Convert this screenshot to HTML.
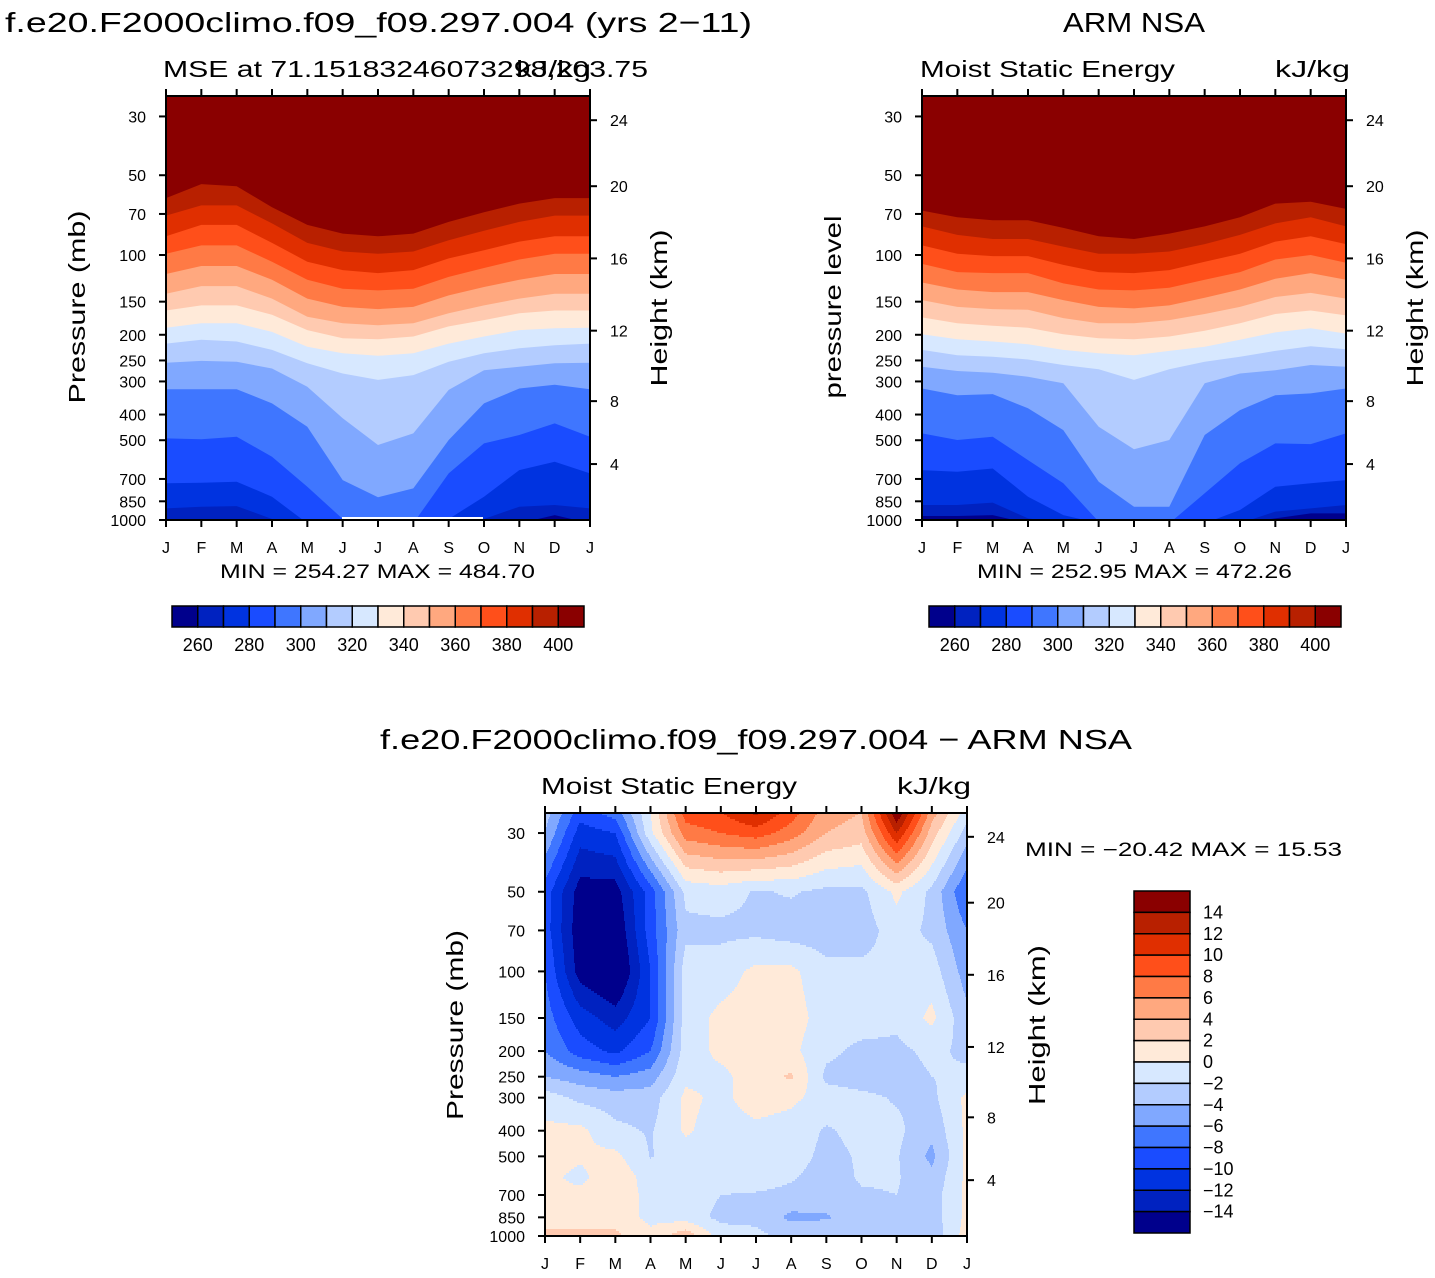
<!DOCTYPE html>
<html><head><meta charset="utf-8">
<style>
html,body{margin:0;padding:0;background:#fff;}
svg{display:block;font-family:"Liberation Sans",sans-serif;}
</style></head>
<body>
<svg id="fig" width="1435" height="1278" viewBox="0 0 1435 1278" xmlns="http://www.w3.org/2000/svg">
<text x="5" y="32" font-size="28" textLength="747" lengthAdjust="spacingAndGlyphs">f.e20.F2000climo.f09_f09.297.004 (yrs 2−11)</text>
<text x="1063" y="32" font-size="28" textLength="142" lengthAdjust="spacingAndGlyphs">ARM NSA</text>
<text x="163" y="77" font-size="23" textLength="485" lengthAdjust="spacingAndGlyphs">MSE at 71.15183246073298,203.75</text>
<text x="516" y="77" font-size="23" textLength="75" lengthAdjust="spacingAndGlyphs">kJ/kg</text>
<text x="920" y="77" font-size="23" textLength="255" lengthAdjust="spacingAndGlyphs">Moist Static Energy</text>
<text x="1275" y="77" font-size="23" textLength="75" lengthAdjust="spacingAndGlyphs">kJ/kg</text>
<text x="380" y="749" font-size="28" textLength="752" lengthAdjust="spacingAndGlyphs">f.e20.F2000climo.f09_f09.297.004 − ARM NSA</text>
<text x="541" y="794" font-size="23" textLength="256" lengthAdjust="spacingAndGlyphs">Moist Static Energy</text>
<text x="897" y="794" font-size="23" textLength="74" lengthAdjust="spacingAndGlyphs">kJ/kg</text>
<text x="220" y="578" font-size="19" textLength="315" lengthAdjust="spacingAndGlyphs">MIN = 254.27 MAX = 484.70</text>
<text x="977" y="578" font-size="19" textLength="315" lengthAdjust="spacingAndGlyphs">MIN = 252.95 MAX = 472.26</text>
<text x="1025" y="856" font-size="19" textLength="317" lengthAdjust="spacingAndGlyphs">MIN = −20.42 MAX =  15.53</text>
<text transform="translate(85,307) rotate(-90)" text-anchor="middle" font-size="23" textLength="193" lengthAdjust="spacingAndGlyphs">Pressure (mb)</text>
<text transform="translate(667,308) rotate(-90)" text-anchor="middle" font-size="23" textLength="157" lengthAdjust="spacingAndGlyphs">Height (km)</text>
<text transform="translate(841,307) rotate(-90)" text-anchor="middle" font-size="23" textLength="183" lengthAdjust="spacingAndGlyphs">pressure level</text>
<text transform="translate(1423,308) rotate(-90)" text-anchor="middle" font-size="23" textLength="157" lengthAdjust="spacingAndGlyphs">Height (km)</text>
<text transform="translate(463,1025) rotate(-90)" text-anchor="middle" font-size="23" textLength="190" lengthAdjust="spacingAndGlyphs">Pressure (mb)</text>
<text transform="translate(1045,1025) rotate(-90)" text-anchor="middle" font-size="23" textLength="160" lengthAdjust="spacingAndGlyphs">Height (km)</text>
</svg>
<script>
const NS='http://www.w3.org/2000/svg';
const svg=document.getElementById('fig');
const months=['J','F','M','A','M','J','J','A','S','O','N','D','J'];
const palette=['#00008c','#0022c0','#0033e0','#1a4cff','#3f76ff','#80a8ff','#b3ccff','#d7e8ff','#ffead9','#ffcab0','#ffa87f','#ff7a45','#ff4f1a','#e02f00','#b82000','#8a0000'];
const mseLevels=[260,270,280,290,300,310,320,330,340,350,360,370,380,390,400];
const mseLabels=[260,280,300,320,340,360,380,400];
const diffLevels=[-14,-12,-10,-8,-6,-4,-2,0,2,4,6,8,10,12,14];
const pressureTicks=[30,50,70,100,150,200,250,300,400,500,700,850,1000];
const heightTicks=[24,20,16,12,8,4];
const heightTickP=[31,55,103,193,356,615];
// pressure (mb) of each MSE isoline per month, model panel (rows = mseLevels)
const modelIso=[
[1029,1029,1029,1029,1029,1029,1029,1029,1029,1029,1029,958,1029],
[904,891,886,991,1029,1029,1029,1029,1029,991,891,878,904],
[727,723,717,817,1029,1029,1029,1029,991,817,648,603,667],
[492,496,485,577,749,991,1029,1029,667,514,478,432,485],
[321,321,321,363,445,707,821,760,499,363,319,309,321],
[255,251,253,268,314,413,521,471,323,272,264,256,255],
[216,209,212,228,256,280,296,284,253,235,225,219,216],
[188,181,181,195,222,235,240,235,216,203,192,189,188],
[162,155,155,168,192,206,208,203,186,176,166,162,162],
[140,131,131,146,171,181,184,181,166,155,146,140,140],
[118,110,110,124,146,157,160,157,142,132,124,118,118],
[99,92,92,106,124,134,136,134,121,112,104,99,99],
[85,77,77,90,106,114,117,114,103,96,89,85,85],
[71,65,65,76,90,97,99,97,88,81,75,71,71],
[61,54,55,66,77,83,85,83,75,69,64,61,61]];
// observed panel isolines
const obsIso=[
[966,966,958,1029,1029,1029,1029,1029,1029,1029,986,944,944],
[878,878,860,986,1029,1029,1029,1029,1029,1029,930,904,878],
[648,657,639,817,958,1029,1029,1029,1029,917,749,727,707],
[471,499,485,594,727,1015,1029,1029,793,611,514,517,471],
[319,338,335,379,458,717,891,891,478,385,338,333,319],
[264,274,278,288,305,445,541,499,305,280,272,260,264],
[228,239,242,248,260,270,296,270,253,242,230,221,227],
[199,208,212,217,228,235,239,230,222,209,196,189,198],
[172,181,185,188,199,206,208,203,193,181,167,162,169],
[148,157,160,161,173,181,181,176,167,157,144,139,146],
[127,135,138,138,148,157,159,155,145,135,123,117,124],
[108,116,117,117,128,135,136,133,124,116,104,100,107],
[92,99,101,101,109,116,117,114,106,99,89,85,91],
[78,84,87,87,93,99,99,97,91,84,76,72,78],
[68,72,74,74,79,85,87,83,78,72,64,63,67]];
// difference field: rows = pressure levels, cols = months
const diffP=[1000,850,700,600,500,400,300,250,200,150,100,70,50,30,25];
const diffVals=[
[2.5,2.5,2.5,0.5,3.5,-1,-1.5,-2.5,-2.5,-2.5,-2.5,-3.5,1],
[1,1,1,-0.5,-1,-2.5,-2.5,-4.5,-4.2,-3,-2,-3,0.5],
[0.5,0.5,1,-0.5,-1,-2,-2.2,-2.5,-3,-2.2,-2,-3,0.5],
[0.5,-0.5,1.5,-1,-1,-1,-1,-1.8,-2.8,-1.8,-1.8,-3.5,0.5],
[1,0.3,0.5,-2.1,-1,-1,-1,-1.2,-2.5,-1.8,-1.8,-4.5,0.5],
[0.5,0.5,-1.5,-2.2,0.3,-1,-0.5,-1,-2.2,-1.5,-1.5,-3.5,0.5],
[-1,-2.5,-3,-3,0.5,-0.5,1,0.5,-1,-1.5,-2.2,-2.5,0.5],
[-4,-5,-6,-5,-0.5,-0.5,1,2.3,-2.5,-3,-3,-2,-1.5],
[-6,-9,-10.5,-8,-1,0.5,1,0.5,-1.5,-2.5,-2.5,-1.5,-2.5],
[-7,-11,-13,-10,-1,0.5,1,1,-1,-1,-1.5,0.5,-3.5],
[-8,-15,-17,-10,-1,-1,0.5,0.5,-1.5,-1.5,-1.5,-1,-5],
[-9,-15.5,-16,-9,-2.5,-2.5,-2.5,-3,-3,-3,-1,-2.5,-6],
[-9,-15,-15,-9,-1.5,-1,-2.2,-1.8,-2.5,-2.5,0.5,-2.5,-8],
[-4,-11,-10,-0.5,7,8,9,7,4,3,12,3,-3],
[-3,-9,-7,0,9,10,12.5,9,5,4,16,5,-1]];

function mk(tag,attrs,parent){const e=document.createElementNS(NS,tag);for(const k in attrs)e.setAttribute(k,attrs[k]);(parent||svg).appendChild(e);return e;}
function txt(s,x,y,size,anchor,parent){const t=mk('text',{x:x,y:y,'font-size':size,'text-anchor':anchor||'start'},parent);t.textContent=s;return t;}
function colorIndex(v){if(v<diffLevels[0])return 0;let i=Math.floor((v-diffLevels[0])/2)+1;return Math.min(15,i);}

function axes(g,name,L,R,T,B,yOf,prefix){
  const xs=(m)=>L+m*(R-L)/12;
  const f=mk('rect',{x:L,y:T,width:R-L,height:B-T,fill:'none',stroke:'#000','stroke-width':2},g);
  
  
  months.forEach((m,i)=>{
    const x=xs(i);
    mk('line',{x1:x,y1:T-7,x2:x,y2:T,stroke:'#000','stroke-width':2},g);
    mk('line',{x1:x,y1:B,x2:x,y2:B+7,stroke:'#000','stroke-width':2},g);
    const t=txt(m,x,B+33,16,'middle',g);
    
    
  });
  pressureTicks.forEach(p=>{
    const y=yOf(p);
    mk('line',{x1:L-7,y1:y,x2:L,y2:y,stroke:'#000','stroke-width':2},g);
    const t=txt(String(p),L-20,y+6,16,'end',g);
    
    
  });
  heightTicks.forEach((h,i)=>{
    const y=yOf(heightTickP[i]);
    mk('line',{x1:R,y1:y,x2:R+7,y2:y,stroke:'#000','stroke-width':2},g);
    const t=txt(String(h),R+20,y+6,16,'start',g);
    
    
  });
}

function topPanel(prefix,iso,L,R,T,B){
  const g=mk('g',{});
  
  
  const yOf=(p)=>B-265*Math.log10(1000/p);
  const xs=(m)=>L+m*(R-L)/12;
  const cid=prefix+'-clip';
  const cp=mk('clipPath',{id:cid},g);mk('rect',{x:L,y:T,width:R-L,height:B-T},cp);
  const fg=mk('g',{'clip-path':'url(#'+cid+')'},g);
  const base=mk('rect',{x:L,y:T,width:R-L,height:B-T,fill:palette[0]},fg);
  
  
  iso.forEach((row,k)=>{
    let pts=row.map((p,m)=>xs(m).toFixed(1)+','+yOf(p).toFixed(1));
    pts.push(R+','+(T-5));pts.push(L+','+(T-5));
    const poly=mk('polygon',{points:pts.join(' '),fill:palette[k+1]},fg);
    
    
  });
  axes(g,prefix,L,R,T,B,yOf,prefix);
  return g;
}
topPanel('model',modelIso,166,590,96,520);
const ms=mk('rect',{x:342,y:517,width:141,height:2,fill:'#fff'});


topPanel('obs',obsIso,922,1346,96,520);

function hBar(prefix,L,T,W,H){
  const g=mk('g',{});
  
  
  const bw=W/16;
  palette.forEach((c,i)=>{
    const r=mk('rect',{x:L+i*bw,y:T,width:bw,height:H,fill:c,stroke:'#000','stroke-width':1.5},g);
    
    
  });
  mseLabels.forEach(v=>{
    const k=mseLevels.indexOf(v);
    const t=txt(String(v),L+(k+1)*bw,T+H+24,18,'middle',g);
    
    
  });
}
hBar('model',172,606,412,21);
hBar('obs',929,606,412,21);

(function(){
  const L=545,R=967,T=813,B=1236;
  const g=mk('g',{});
  
  
  const dec=264.6;
  const yOf=(p)=>B-dec*Math.log10(1000/p);
  const lps=diffP.map(p=>Math.log10(p));
  const fg=mk('g',{'shape-rendering':'crispEdges'},g);
  function val(px,py){
    let mf=(px-L)/((R-L)/12);let i=Math.min(11,Math.max(0,Math.floor(mf)));let t=Math.min(1,Math.max(0,mf-i));
    const lp=3-(B-py)/dec;
    let j=0;while(j<lps.length-2&&lp<lps[j+1])j++;
    let u=(lps[j]-lp)/(lps[j]-lps[j+1]);u=Math.min(1,Math.max(0,u));
    const a=diffVals[j][i]*(1-t)+diffVals[j][i+1]*t;
    const b=diffVals[j+1][i]*(1-t)+diffVals[j+1][i+1]*t;
    return a*(1-u)+b*u;
  }
  for(let py=T;py<B;py+=2){
    let start=L,cur=colorIndex(val(L+0.5,py+1));
    for(let px=L+1;px<=R;px++){
      const c=px<R?colorIndex(val(px+0.5,py+1)):-1;
      if(c!==cur){
        const r=mk('rect',{x:start,y:py,width:px-start,height:2,fill:palette[cur]},fg);
        
        
        start=px;cur=c;
      }
    }
  }
  axes(g,'diff',L,R,T,B,yOf,'diff');
  const cb=mk('g',{});
  
  
  const bh=342/16;
  palette.slice().reverse().forEach((c,i)=>{
    const r=mk('rect',{x:1134,y:891+i*bh,width:56,height:bh,fill:c,stroke:'#000','stroke-width':1.5},cb);
    
    
  });
  diffLevels.slice().reverse().forEach((v,i)=>{
    const t=txt(String(v).replace('-','−'),1203,891+(i+1)*bh+6,18,'start',cb);
    
    
  });
})();
</script>
</body></html>
